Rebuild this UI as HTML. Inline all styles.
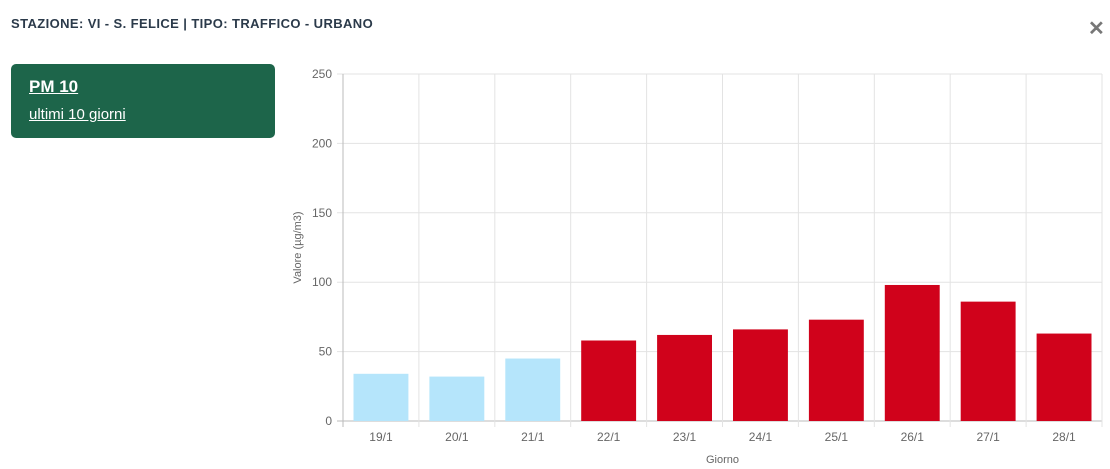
<!DOCTYPE html>
<html><head><meta charset="utf-8"><style>
body{margin:0;width:1110px;height:469px;background:#fff;font-family:"Liberation Sans",sans-serif;overflow:hidden;position:relative}
#title{position:absolute;left:11px;top:16px;font-size:13px;color:#2b3a4a;letter-spacing:0.4px;font-weight:bold}
#close{position:absolute;left:1088px;top:16px;font-size:20px;color:#777;font-weight:bold}
#box{position:absolute;left:11px;top:64px;width:264px;height:74px;background:#1d654a;border-radius:5px;color:#fff}
#box .a{position:absolute;left:18px;top:13px;font-size:17px;font-weight:bold;text-decoration:underline}
#box .b{position:absolute;left:18px;top:42px;font-size:15px;text-decoration:underline}
svg{position:absolute;left:0;top:0}
</style></head><body>
<div id="title">STAZIONE: VI - S. FELICE | TIPO: TRAFFICO - URBANO</div>
<div id="close">✕</div>
<div id="box"><div class="a">PM 10</div><div class="b">ultimi 10 giorni</div></div>
<svg id="chart" width="1110" height="469"></svg>
<script>
const categories=["19/1","20/1","21/1","22/1","23/1","24/1","25/1","26/1","27/1","28/1"];
const values=[34,32,45,58,62,66,73,98,86,63];
const exceeded=[false,false,false,true,true,true,true,true,true,true];
const yTicks=[0,50,100,150,200,250];
const L=343,R=1102,T=74,B=421,maxY=250;
const svg=document.getElementById('chart');
const NS='http://www.w3.org/2000/svg';
const y=v=>B-(v/maxY)*(B-T);
const bw=(R-L)/categories.length;
const x=i=>L+i*bw;
function mk(t,a){const e=document.createElementNS(NS,t);for(const k in a)e.setAttribute(k,a[k]);svg.appendChild(e);return e;}
yTicks.forEach(t=>{
  const g=mk('line',{x1:337,x2:R,y1:y(t),y2:y(t),stroke:t===0?'#bbb':'#e3e3e3'});
  
  
  const tx=mk('text',{x:332,y:y(t)+4,'text-anchor':'end','font-size':12,fill:'#666'});
  tx.textContent=t;
  
  
});
for(let i=0;i<=categories.length;i++){
  const g=mk('line',{x1:x(i),x2:x(i),y1:T,y2:B+6,stroke:i===0?'#bbb':'#e3e3e3'});
  
  
}
categories.forEach((c,i)=>{
  const r=mk('rect',{x:x(i)+10.5,y:y(values[i]),width:bw-21,height:B-y(values[i]),fill:exceeded[i]?'#d0021b':'#b5e5fb'});
  
  
  const t=mk('text',{x:x(i)+bw/2,y:441,'text-anchor':'middle','font-size':12,fill:'#666'});
  t.textContent=c;
  
  
});
const xt=mk('text',{x:(L+R)/2,y:463,'text-anchor':'middle','font-size':11,fill:'#666'});
xt.textContent='Giorno';


const yt=mk('text',{x:0,y:0,'text-anchor':'middle','font-size':11,fill:'#666',transform:'translate(301,'+((T+B)/2)+') rotate(-90)'});
yt.textContent='Valore (µg/m3)';


</script>
</body></html>
